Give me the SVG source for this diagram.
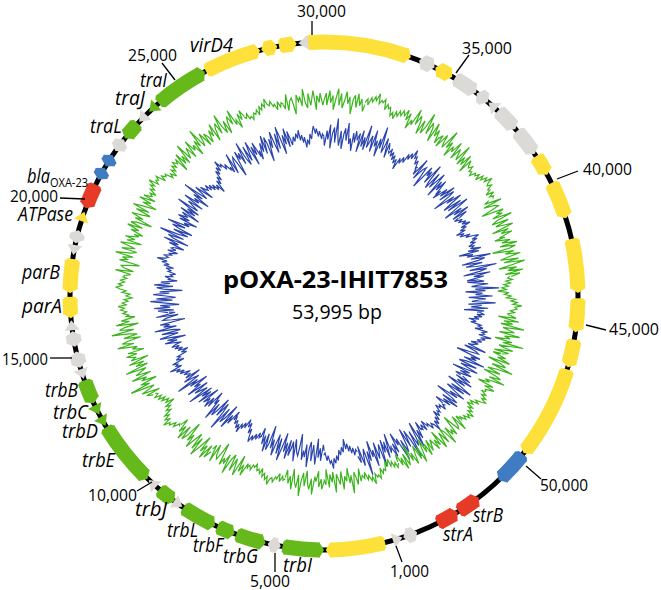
<svg xmlns="http://www.w3.org/2000/svg" xmlns:xlink="http://www.w3.org/1999/xlink" width="661" height="590" viewBox="0 0 661 590">
<style>
.t{font-family:"Open Sans","Liberation Sans",sans-serif;font-size:17px;fill:#000}
.gl{font-family:"Open Sans","Liberation Sans",sans-serif;font-style:italic;font-size:20px;fill:#000}
.cY{color:#fde13a}.cG{color:#66b91a}.cN{color:#dcdad6}.cR{color:#e53b27}.cB{color:#3f7cc1}
.pz{fill:none;stroke:currentColor;stroke-width:1.2;vector-effect:non-scaling-stroke;stroke-linejoin:miter}
.gcG{color:#3cb41e}.gcB{color:#2c46ad}
</style>
<defs>
<circle id="a" r="254" pathLength="360" fill="none" stroke="currentColor" stroke-width="15"/>
<polygon id="kt" points="-5.5,-261.5 -4.5,-261.5 0,-254 -4.5,-246.5 -5.5,-246.5" fill="currentColor"/>
<polygon id="kb" points="0,-259 2.5,-261.5 3.5,-261.5 3.5,-246.5 2.5,-246.5 0,-249" fill="currentColor"/>
<polygon id="tr" points="-10,-261.5 0,-254 -10,-246.5" fill="currentColor"/>
<path id="pA" class="pz" d="M-10.5-99.4L-9.6-101.5-8.8-98.6-7.9-102.7-7-100.7-6.1-103.8-5.3-101.9-4.4-105.9-3.5-100.9-2.6-103-1.8-102-0.9-104 0-99 0.9-102 1.8-100 2.6-101 3.5-96.9 4.4-98.9 5.3-95.9 6.1-99.8 7-97.7 7.9-100.7 8.8-98.6 9.6-101.5 10.5-99.4"/>
<path id="pB" class="pz" d="M-10.5-99.4L-9.6-98.5-8.8-100.6-7.9-97.7-7-99.7-6.1-96.8-5.3-98.9-4.4-95.9-3.5-97.9-2.6-94-1.8-99-0.9-97 0-100 0.9-98 1.8-102 2.6-100 3.5-102.9 4.4-100.9 5.3-104.9 6.1-101.8 7-102.7 7.9-99.7 8.8-101.6 9.6-98.5 10.5-99.4"/>
<path id="pC" class="pz" d="M-10.5-99.4L-9.6-100.5-8.8-98.6-7.9-101.7-7-97.7-6.1-100.8-5.3-99.9-4.4-102.9-3.5-100.9-2.6-102-1.8-105-0.9-101 0-103 0.9-100 1.8-102 2.6-98 3.5-100.9 4.4-98.9 5.3-99.9 6.1-96.8 7-98.7 7.9-97.7 8.8-100.6 9.6-98.5 10.5-99.4"/>
<path id="pD" class="pz" d="M-10.5-99.4L-9.6-97.5-8.8-100.6-7.9-98.7-7-101.7-6.1-99.8-5.3-102.9-4.4-98.9-3.5-100.9-2.6-98-1.8-100-0.9-96 0-99 0.9-97 1.8-101 2.6-99 3.5-101.9 4.4-103.9 5.3-100.9 6.1-102.8 7-99.7 7.9-101.7 8.8-98.6 9.6-100.5 10.5-99.4"/>
<path id="pE" class="pz" d="M-10.5-99.4L-9.6-102.5-8.8-97.6-7.9-103.7-7-98.7-6.1-101.8-5.3-95.9-4.4-100.9-3.5-104.9-2.6-98-1.8-103-0.9-97 0-100 0.9-104 1.8-99 2.6-102 3.5-94.9 4.4-100.9 5.3-102.9 6.1-97.8 7-103.7 7.9-98.7 8.8-101.6 9.6-96.5 10.5-99.4"/>
<path id="pF" class="pz" d="M-10.5-99.4L-9.6-101.5-8.8-96.6-7.9-102.7-7-99.7-6.1-97.8-5.3-105.9-4.4-98.9-3.5-101.9-2.6-96-1.8-101-0.9-99 0-104 0.9-97 1.8-102 2.6-100 3.5-97.9 4.4-104.9 5.3-96.9 6.1-100.8 7-97.7 7.9-102.7 8.8-95.6 9.6-101.5 10.5-99.4"/>
<path id="pG" class="pz" d="M-10.5-99.4L-9.6-96.5-8.8-101.6-7.9-98.7-7-103.7-6.1-95.8-5.3-100.9-4.4-102.9-3.5-97.9-2.6-106-1.8-100-0.9-97 0-102 0.9-96 1.8-101 2.6-103 3.5-98.9 4.4-104.9 5.3-97.9 6.1-99.8 7-95.7 7.9-101.7 8.8-98.6 9.6-102.5 10.5-99.4"/>
<path id="pH" class="pz" d="M-10.5-99.4L-9.6-97.5-8.8-103.6-7.9-96.7-7-100.7-6.1-101.8-5.3-98.9-4.4-94.9-3.5-102.9-2.6-100-1.8-102-0.9-98 0-105 0.9-99 1.8-97 2.6-103 3.5-97.9 4.4-100.9 5.3-103.9 6.1-95.8 7-101.7 7.9-98.7 8.8-102.6 9.6-97.5 10.5-99.4"/>
</defs>
<rect width="661" height="590" fill="#fff"/>
<g transform="translate(324 296)">
<g id="gc-skew" class="gcB">
<use href="#pG" transform="rotate(6) translate(0,-160) scale(1.6 3) translate(0,100)"/>
<use href="#pF" transform="rotate(18) translate(0,-161) scale(-1.61 3.2) translate(0,100)"/>
<use href="#pB" transform="rotate(30) translate(0,-160) scale(1.6 2.6) translate(0,100)"/>
<use href="#pH" transform="rotate(42) translate(0,-158) scale(1.58 3.2) translate(0,100)"/>
<use href="#pE" transform="rotate(54) translate(0,-157) scale(-1.57 3.2) translate(0,100)"/>
<use href="#pD" transform="rotate(66) translate(0,-156) scale(1.56 2.6) translate(0,100)"/>
<use href="#pG" transform="rotate(78) translate(0,-155) scale(-1.55 3.4) translate(0,100)"/>
<use href="#pF" transform="rotate(90) translate(0,-155) scale(1.55 3.4) translate(0,100)"/>
<use href="#pA" transform="rotate(102) translate(0,-157) scale(-1.57 2.6) translate(0,100)"/>
<use href="#pH" transform="rotate(114) translate(0,-159) scale(1.59 3.2) translate(0,100)"/>
<use href="#pE" transform="rotate(126) translate(0,-161) scale(1.61 3.2) translate(0,100)"/>
<use href="#pC" transform="rotate(138) translate(0,-164) scale(-1.64 2.6) translate(0,100)"/>
<use href="#pG" transform="rotate(150) translate(0,-167) scale(1.67 3.4) translate(0,100)"/>
<use href="#pF" transform="rotate(162) translate(0,-165) scale(-1.65 3.4) translate(0,100)"/>
<use href="#pB" transform="rotate(174) translate(0,-160) scale(1.6 2.6) translate(0,100)"/>
<use href="#pH" transform="rotate(186) translate(0,-156) scale(-1.56 3.2) translate(0,100)"/>
<use href="#pE" transform="rotate(198) translate(0,-155) scale(1.55 3.2) translate(0,100)"/>
<use href="#pD" transform="rotate(210) translate(0,-154) scale(-1.54 2.6) translate(0,100)"/>
<use href="#pG" transform="rotate(222) translate(0,-154) scale(1.54 3.2) translate(0,100)"/>
<use href="#pF" transform="rotate(234) translate(0,-155) scale(-1.55 3.2) translate(0,100)"/>
<use href="#pA" transform="rotate(246) translate(0,-156) scale(1.56 2.6) translate(0,100)"/>
<use href="#pH" transform="rotate(258) translate(0,-157) scale(-1.57 3.2) translate(0,100)"/>
<use href="#pE" transform="rotate(270) translate(0,-158) scale(1.58 3.2) translate(0,100)"/>
<use href="#pC" transform="rotate(282) translate(0,-158) scale(-1.58 2.6) translate(0,100)"/>
<use href="#pG" transform="rotate(294) translate(0,-158) scale(1.58 3.2) translate(0,100)"/>
<use href="#pF" transform="rotate(306) translate(0,-159) scale(-1.59 3.2) translate(0,100)"/>
<use href="#pB" transform="rotate(318) translate(0,-160) scale(1.6 2.6) translate(0,100)"/>
<use href="#pH" transform="rotate(330) translate(0,-160) scale(1.6 3.2) translate(0,100)"/>
<use href="#pE" transform="rotate(342) translate(0,-160) scale(-1.6 3.2) translate(0,100)"/>
<use href="#pD" transform="rotate(354) translate(0,-160) scale(1.6 2.6) translate(0,100)"/>
</g>
<g id="gc-content" class="gcG">
<use href="#pE" transform="rotate(6) translate(0,-196) scale(1.96 2.4) translate(0,100)"/>
<use href="#pA" transform="rotate(18) translate(0,-198) scale(1.98 2) translate(0,100)"/>
<use href="#pG" transform="rotate(30) translate(0,-197) scale(-1.97 2.6) translate(0,100)"/>
<use href="#pF" transform="rotate(42) translate(0,-195) scale(1.95 2.6) translate(0,100)"/>
<use href="#pC" transform="rotate(54) translate(0,-195) scale(-1.95 2) translate(0,100)"/>
<use href="#pH" transform="rotate(66) translate(0,-191) scale(1.91 2.8) translate(0,100)"/>
<use href="#pE" transform="rotate(78) translate(0,-189) scale(-1.89 3) translate(0,100)"/>
<use href="#pB" transform="rotate(90) translate(0,-187) scale(1.87 2.2) translate(0,100)"/>
<use href="#pF" transform="rotate(102) translate(0,-188) scale(-1.88 3) translate(0,100)"/>
<use href="#pG" transform="rotate(114) translate(0,-187) scale(1.87 2.8) translate(0,100)"/>
<use href="#pD" transform="rotate(126) translate(0,-186) scale(-1.86 2) translate(0,100)"/>
<use href="#pH" transform="rotate(138) translate(0,-184) scale(1.84 2.6) translate(0,100)"/>
<use href="#pE" transform="rotate(150) translate(0,-182) scale(1.82 2.6) translate(0,100)"/>
<use href="#pA" transform="rotate(162) translate(0,-183) scale(-1.83 2) translate(0,100)"/>
<use href="#pF" transform="rotate(174) translate(0,-184) scale(1.84 2.6) translate(0,100)"/>
<use href="#pG" transform="rotate(186) translate(0,-186) scale(-1.86 2.6) translate(0,100)"/>
<use href="#pC" transform="rotate(198) translate(0,-187) scale(1.87 2) translate(0,100)"/>
<use href="#pH" transform="rotate(210) translate(0,-190) scale(-1.9 2.8) translate(0,100)"/>
<use href="#pE" transform="rotate(222) translate(0,-193) scale(1.93 2.8) translate(0,100)"/>
<use href="#pB" transform="rotate(234) translate(0,-195) scale(-1.95 2.2) translate(0,100)"/>
<use href="#pF" transform="rotate(246) translate(0,-198) scale(1.98 3) translate(0,100)"/>
<use href="#pG" transform="rotate(258) translate(0,-199) scale(-1.99 2.8) translate(0,100)"/>
<use href="#pD" transform="rotate(270) translate(0,-200) scale(2 2) translate(0,100)"/>
<use href="#pH" transform="rotate(282) translate(0,-200) scale(2 2.6) translate(0,100)"/>
<use href="#pE" transform="rotate(294) translate(0,-199) scale(-1.99 2.6) translate(0,100)"/>
<use href="#pA" transform="rotate(306) translate(0,-198) scale(1.98 2) translate(0,100)"/>
<use href="#pF" transform="rotate(318) translate(0,-197) scale(-1.97 2.6) translate(0,100)"/>
<use href="#pG" transform="rotate(330) translate(0,-197) scale(1.97 2.4) translate(0,100)"/>
<use href="#pC" transform="rotate(342) translate(0,-196) scale(-1.96 2) translate(0,100)"/>
<use href="#pH" transform="rotate(354) translate(0,-196) scale(1.96 2.4) translate(0,100)"/>
</g>
<circle id="backbone" r="254" fill="none" stroke="#000" stroke-width="5"/>
<g id="genes">
<g id="g-orf1" class="cN"><use href="#tr" transform="rotate(162) scale(-1 1)"/></g>
<g id="g-orf2" class="cN"><use href="#a" transform="rotate(69.5)" stroke-dasharray="1.3 400"/><use href="#kt" transform="rotate(161.8)"/><use href="#kt" transform="rotate(158.5) scale(-1 1)"/></g>
<g id="g-strA" class="cR"><use href="#a" transform="rotate(59.3)" stroke-dasharray="3.6 400"/><use href="#kt" transform="rotate(148.3) scale(-1 1)"/><use href="#kb" transform="rotate(153.5) scale(-1 1)"/></g>
<g id="g-strB" class="cR"><use href="#a" transform="rotate(53.5)" stroke-dasharray="3.9 400"/><use href="#kt" transform="rotate(142.5) scale(-1 1)"/><use href="#kb" transform="rotate(148) scale(-1 1)"/></g>
<g id="g-blue1" class="cB"><use href="#a" transform="rotate(39.1)" stroke-dasharray="6.4 400"/><use href="#kb" transform="rotate(128.5)"/><use href="#kt" transform="rotate(136.5)"/></g>
<g id="g-y1" class="cY"><use href="#a" transform="rotate(17.4)" stroke-dasharray="19.8 400"/><use href="#kb" transform="rotate(106.8)"/><use href="#kt" transform="rotate(128.2)"/></g>
<g id="g-y2" class="cY"><use href="#a" transform="rotate(10.5)" stroke-dasharray="4.8 400"/><use href="#kb" transform="rotate(99.9)"/><use href="#kt" transform="rotate(106.3)"/></g>
<g id="g-y3" class="cY"><use href="#a" transform="rotate(1.1)" stroke-dasharray="6.1 400"/><use href="#kb" transform="rotate(90.5)"/><use href="#kt" transform="rotate(98.2)"/></g>
<g id="g-y4" class="cY"><use href="#a" transform="rotate(-12.4)" stroke-dasharray="10.7 400"/><use href="#kb" transform="rotate(77)"/><use href="#kt" transform="rotate(89.3)"/></g>
<g id="g-y5" class="cY"><use href="#a" transform="rotate(-25.8)" stroke-dasharray="7 400"/><use href="#kb" transform="rotate(63.6)"/><use href="#kt" transform="rotate(72.2)"/></g>
<g id="g-y6" class="cY"><use href="#a" transform="rotate(-32.8)" stroke-dasharray="3.3 400"/><use href="#kb" transform="rotate(56.6)"/><use href="#kt" transform="rotate(61.5)"/></g>
<g id="g-n1" class="cN"><use href="#a" transform="rotate(-39.9)" stroke-dasharray="4.9 400"/><use href="#kb" transform="rotate(49.5)"/><use href="#kt" transform="rotate(56)"/></g>
<g id="g-n2" class="cN"><use href="#a" transform="rotate(-46.2)" stroke-dasharray="4.1 400"/><use href="#kb" transform="rotate(43.2)"/><use href="#kt" transform="rotate(48.9)"/></g>
<g id="g-n3" class="cN"><use href="#tr" transform="rotate(40.4) scale(-1 1)"/></g>
<g id="g-n4" class="cN"><use href="#a" transform="rotate(-52)" stroke-dasharray="1.2 400"/><use href="#kt" transform="rotate(40.2)"/><use href="#kt" transform="rotate(37) scale(-1 1)"/></g>
<g id="g-n5" class="cN"><use href="#a" transform="rotate(-58.4)" stroke-dasharray="4.2 400"/><use href="#kb" transform="rotate(31)"/><use href="#kt" transform="rotate(36.8)"/></g>
<g id="g-y7" class="cY"><use href="#a" transform="rotate(-63)" stroke-dasharray="2.3 400"/><use href="#kt" transform="rotate(30.3)"/><use href="#kt" transform="rotate(26) scale(-1 1)"/></g>
<g id="g-n6" class="cN"><use href="#a" transform="rotate(-67)" stroke-dasharray="1.8 400"/><use href="#kt" transform="rotate(25.8)"/><use href="#kt" transform="rotate(22) scale(-1 1)"/></g>
<g id="g-y8" class="cY"><use href="#a" transform="rotate(266.6)" stroke-dasharray="22.4 400"/><use href="#kb" transform="rotate(356)"/><use href="#kt" transform="rotate(20)"/></g>
<g id="g-n7" class="cN"><use href="#tr" transform="rotate(354.2) scale(-1 1)"/></g>
<g id="g-y9" class="cY"><use href="#a" transform="rotate(260.4)" stroke-dasharray="2.4 400"/><use href="#kb" transform="rotate(349.8)"/><use href="#kt" transform="rotate(353.8)"/></g>
<g id="g-y10" class="cY"><use href="#a" transform="rotate(256.7)" stroke-dasharray="1.7 400"/><use href="#kt" transform="rotate(349.4)"/><use href="#kt" transform="rotate(345.7) scale(-1 1)"/></g>
<g id="g-virD4" class="cY"><use href="#a" transform="rotate(242.9)" stroke-dasharray="11.5 400"/><use href="#kb" transform="rotate(332.3)"/><use href="#kt" transform="rotate(345.4)"/></g>
<g id="g-traI" class="cG"><use href="#a" transform="rotate(230)" stroke-dasharray="11 400"/><use href="#kb" transform="rotate(319.4)"/><use href="#kt" transform="rotate(332)"/></g>
<g id="g-traJ" class="cG"><use href="#tr" transform="rotate(316.5) scale(-1 1)"/></g>
<g id="g-n8" class="cN"><use href="#tr" transform="rotate(313.3) scale(-1 1)"/></g>
<g id="g-traL" class="cG"><use href="#a" transform="rotate(219.4)" stroke-dasharray="2.8 400"/><use href="#kt" transform="rotate(308.4) scale(-1 1)"/><use href="#kb" transform="rotate(312.8) scale(-1 1)"/></g>
<g id="g-n9" class="cN"><use href="#a" transform="rotate(215.8)" stroke-dasharray="1.2 400"/><use href="#kt" transform="rotate(308)"/><use href="#kt" transform="rotate(304.8) scale(-1 1)"/></g>
<g id="g-b2" class="cB"><use href="#a" transform="rotate(211.7)" stroke-dasharray="1 400"/><use href="#kt" transform="rotate(303.7)"/><use href="#kt" transform="rotate(300.7) scale(-1 1)"/></g>
<g id="g-b3" class="cB"><use href="#a" transform="rotate(208.3)" stroke-dasharray="1 400"/><use href="#kt" transform="rotate(300.3)"/><use href="#kt" transform="rotate(297.3) scale(-1 1)"/></g>
<g id="g-bla" class="cR"><use href="#a" transform="rotate(201.2)" stroke-dasharray="4.2 400"/><use href="#kt" transform="rotate(290.2) scale(-1 1)"/><use href="#kb" transform="rotate(296) scale(-1 1)"/></g>
<g id="g-ATPase" class="cY"><use href="#tr" transform="rotate(289.4)"/></g>
<g id="g-n10" class="cN"><use href="#a" transform="rotate(193)" stroke-dasharray="1 400"/><use href="#kt" transform="rotate(285)"/><use href="#kt" transform="rotate(282) scale(-1 1)"/></g>
<g id="g-n11" class="cN"><use href="#tr" transform="rotate(279.3) scale(-1 1)"/></g>
<g id="g-parB" class="cY"><use href="#a" transform="rotate(181.6)" stroke-dasharray="6.2 400"/><use href="#kt" transform="rotate(270.6) scale(-1 1)"/><use href="#kb" transform="rotate(278.4) scale(-1 1)"/></g>
<g id="g-parA" class="cY"><use href="#a" transform="rotate(176)" stroke-dasharray="3.2 400"/><use href="#kt" transform="rotate(265) scale(-1 1)"/><use href="#kb" transform="rotate(269.8) scale(-1 1)"/></g>
<g id="g-n12" class="cN"><use href="#tr" transform="rotate(264.5)"/></g>
<g id="g-n13" class="cN"><use href="#a" transform="rotate(169.5)" stroke-dasharray="1.5 400"/><use href="#kt" transform="rotate(262)"/><use href="#kt" transform="rotate(258.5) scale(-1 1)"/></g>
<g id="g-n14" class="cN"><use href="#a" transform="rotate(164.6)" stroke-dasharray="1.8 400"/><use href="#kt" transform="rotate(257.4)"/><use href="#kt" transform="rotate(253.6) scale(-1 1)"/></g>
<g id="g-n15" class="cN"><use href="#tr" transform="rotate(251) scale(-1 1)"/></g>
<g id="g-trbB" class="cG"><use href="#a" transform="rotate(156)" stroke-dasharray="4 400"/><use href="#kt" transform="rotate(245) scale(-1 1)"/><use href="#kb" transform="rotate(250.6) scale(-1 1)"/></g>
<g id="g-trbC" class="cG"><use href="#tr" transform="rotate(242.2) scale(-1 1)"/></g>
<g id="g-trbD" class="cG"><use href="#tr" transform="rotate(239.3) scale(-1 1)"/></g>
<g id="g-trbE" class="cG"><use href="#a" transform="rotate(135)" stroke-dasharray="13.3 400"/><use href="#kt" transform="rotate(224) scale(-1 1)"/><use href="#kb" transform="rotate(238.9) scale(-1 1)"/></g>
<g id="g-n16" class="cN"><use href="#tr" transform="rotate(223.6)"/></g>
<g id="g-trbJ" class="cG"><use href="#a" transform="rotate(127.1)" stroke-dasharray="2.7 400"/><use href="#kt" transform="rotate(216.1) scale(-1 1)"/><use href="#kb" transform="rotate(220.4) scale(-1 1)"/></g>
<g id="g-n17" class="cN"><use href="#tr" transform="rotate(213.9) scale(-1 1)"/></g>
<g id="g-trbL" class="cG"><use href="#a" transform="rotate(116.4)" stroke-dasharray="6.6 400"/><use href="#kt" transform="rotate(205.4) scale(-1 1)"/><use href="#kb" transform="rotate(213.6) scale(-1 1)"/></g>
<g id="g-trbF" class="cG"><use href="#a" transform="rotate(111.6)" stroke-dasharray="2.6 400"/><use href="#kt" transform="rotate(200.6) scale(-1 1)"/><use href="#kb" transform="rotate(204.8) scale(-1 1)"/></g>
<g id="g-trbG" class="cG"><use href="#a" transform="rotate(104.3)" stroke-dasharray="5.3 400"/><use href="#kt" transform="rotate(193.3) scale(-1 1)"/><use href="#kb" transform="rotate(200.2) scale(-1 1)"/></g>
<g id="g-n18" class="cN"><use href="#a" transform="rotate(100.8)" stroke-dasharray="1 400"/><use href="#kt" transform="rotate(192.8)"/><use href="#kt" transform="rotate(189.8) scale(-1 1)"/></g>
<g id="g-trbI" class="cG"><use href="#a" transform="rotate(91)" stroke-dasharray="7.8 400"/><use href="#kt" transform="rotate(180) scale(-1 1)"/><use href="#kb" transform="rotate(189.4) scale(-1 1)"/></g>
<g id="g-y11" class="cY"><use href="#a" transform="rotate(76.7)" stroke-dasharray="11.9 400"/><use href="#kb" transform="rotate(166.1)"/><use href="#kt" transform="rotate(179.6)"/></g>
</g>
</g>
<g id="ticks" stroke="#000" stroke-width="1.3">
<line x1="396" y1="546" x2="402" y2="562"/>
<line x1="275" y1="553" x2="275" y2="572"/>
<line x1="152" y1="482" x2="137" y2="491"/>
<line x1="72" y1="358" x2="50" y2="358"/>
<line x1="85" y1="199" x2="60" y2="198"/>
<line x1="175" y1="80" x2="162" y2="63"/>
<line x1="312" y1="35" x2="312" y2="21"/>
<line x1="456" y1="73" x2="469" y2="55"/>
<line x1="557" y1="179" x2="578" y2="171"/>
<line x1="586" y1="325" x2="606" y2="330"/>
<line x1="526" y1="466" x2="541" y2="479"/>
</g>
<g id="tick-labels" class="t">
<text x="297" y="17" textLength="49" lengthAdjust="spacingAndGlyphs">30,000</text>
<text x="462" y="54" textLength="50" lengthAdjust="spacingAndGlyphs">35,000</text>
<text x="583" y="175" textLength="49" lengthAdjust="spacingAndGlyphs">40,000</text>
<text x="609" y="335" textLength="50" lengthAdjust="spacingAndGlyphs">45,000</text>
<text x="540" y="491" textLength="48" lengthAdjust="spacingAndGlyphs">50,000</text>
<text x="390" y="577" textLength="39" lengthAdjust="spacingAndGlyphs">1,000</text>
<text x="250" y="587" textLength="40" lengthAdjust="spacingAndGlyphs">5,000</text>
<text x="88" y="501" textLength="49" lengthAdjust="spacingAndGlyphs">10,000</text>
<text x="2" y="365" textLength="46" lengthAdjust="spacingAndGlyphs">15,000</text>
<text x="10" y="202" textLength="48" lengthAdjust="spacingAndGlyphs">20,000</text>
<text x="128" y="61" textLength="49" lengthAdjust="spacingAndGlyphs">25,000</text>
</g>
<g id="gene-labels" class="gl">
<text x="190" y="52" textLength="43" lengthAdjust="spacingAndGlyphs">virD4</text>
<text x="140" y="87" textLength="27" lengthAdjust="spacingAndGlyphs">traI</text>
<text x="115" y="105" textLength="30" lengthAdjust="spacingAndGlyphs">traJ</text>
<text x="90" y="133" textLength="32" lengthAdjust="spacingAndGlyphs">traL</text>
<text x="27" y="183" textLength="23" lengthAdjust="spacingAndGlyphs">bla</text>
<text x="50" y="187" font-style="normal" font-size="12" textLength="38" lengthAdjust="spacingAndGlyphs">OXA-23</text>
<text x="18" y="221" textLength="55" lengthAdjust="spacingAndGlyphs">ATPase</text>
<text x="22" y="279" textLength="38" lengthAdjust="spacingAndGlyphs">parB</text>
<text x="22" y="313" textLength="40" lengthAdjust="spacingAndGlyphs">parA</text>
<text x="45" y="397" textLength="33" lengthAdjust="spacingAndGlyphs">trbB</text>
<text x="53" y="419" textLength="35" lengthAdjust="spacingAndGlyphs">trbC</text>
<text x="62" y="438" textLength="36" lengthAdjust="spacingAndGlyphs">trbD</text>
<text x="82" y="467" textLength="33" lengthAdjust="spacingAndGlyphs">trbE</text>
<text x="135" y="516" textLength="32" lengthAdjust="spacingAndGlyphs">trbJ</text>
<text x="167" y="537" textLength="31" lengthAdjust="spacingAndGlyphs">trbL</text>
<text x="193" y="552" textLength="30" lengthAdjust="spacingAndGlyphs">trbF</text>
<text x="223" y="563" textLength="35" lengthAdjust="spacingAndGlyphs">trbG</text>
<text x="283" y="572" textLength="29" lengthAdjust="spacingAndGlyphs">trbI</text>
<text x="443" y="541" textLength="30" lengthAdjust="spacingAndGlyphs">strA</text>
<text x="473" y="522" textLength="30" lengthAdjust="spacingAndGlyphs">strB</text>
</g>
<g id="title" font-family="'Open Sans','Liberation Sans',sans-serif" text-anchor="middle">
<text x="335.5" y="288" font-size="24" font-weight="700" textLength="225" lengthAdjust="spacingAndGlyphs">pOXA-23-IHIT7853</text>
<text x="337" y="319" font-size="19.5" textLength="90" lengthAdjust="spacingAndGlyphs">53,995 bp</text>
</g>
</svg>
